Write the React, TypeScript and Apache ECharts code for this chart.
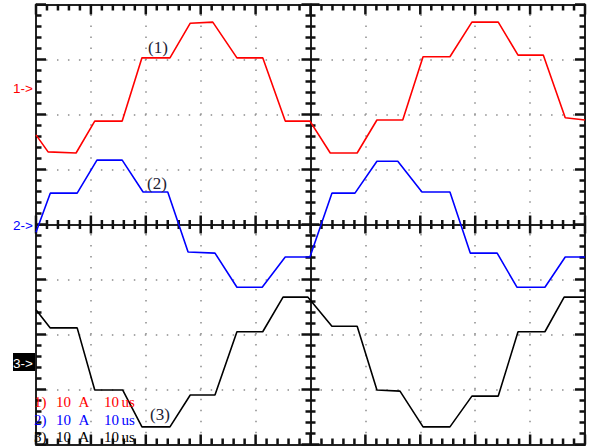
import React, { useEffect, useRef } from "react";
import * as echarts from "echarts";

// Time base: 10 us/div (5 sub-divisions), trigger at the centre of the screen
const T_MIN = -50;
const T_MAX = 50;
const T_DIV = 10;
const T_SUB = 2;
// Vertical screen: 8 divisions (5 sub-divisions each), channels at 10 A/div
const Y_MIN = -4;
const Y_MAX = 4;
const Y_DIV = 1;
const Y_SUB = 0.2;
const AMPS_PER_DIV = 10;

// Ground level of each channel, in screen divisions
const groundDiv = [2.5, 0, -2.5];
const traceColors = ["#ff0000", "#0000ff", "#000000"];
const channelTags = ["1->", "2->", "3->"];
const legendIds = ["1)", "2)", "3)"];
const legendScale = ["10", "A"];
const legendTime = ["10", "us"];
const traceNames = ["(1)", "(2)", "(3)"];

// Phase currents: [time (us), current (A)]
const ch1: [number, number][] = [
  [-50.0, -8.7], [-47.8, -11.8], [-42.7, -12.0], [-39.3, -6.2], [-34.3, -6.2],
  [-30.7, 5.3], [-25.6, 5.3], [-21.9, 11.6], [-17.8, 11.8], [-13.4, 5.3],
  [-8.7, 5.3], [-4.6, -6.2], [-0.1, -6.2], [3.6, -12.0], [8.5, -12.0],
  [12.1, -6.0], [16.8, -6.0], [20.5, 5.5], [25.4, 5.5], [29.4, 11.8],
  [34.2, 11.8], [37.8, 5.8], [42.4, 5.8], [46.4, -5.6], [50.0, -6.0],
];

const ch2: [number, number][] = [
  [-50.0, -1.4], [-47.4, 5.7], [-42.5, 5.7], [-38.9, 11.7], [-34.3, 11.7],
  [-30.5, 5.9], [-26.0, 5.9], [-22.3, -5.0], [-17.4, -5.2], [-13.4, -11.4],
  [-8.8, -11.4], [-4.6, -5.9], [-0.1, -5.9], [3.9, 5.7], [8.1, 5.7],
  [12.1, 11.5], [15.9, 11.5], [20.3, 5.9], [25.4, 5.9], [29.1, -5.2],
  [34.0, -5.2], [37.6, -11.4], [42.7, -11.4], [46.4, -5.9], [50.0, -5.9],
];

const ch3: [number, number][] = [
  [-50.0, 9.5], [-47.4, 6.2], [-42.5, 6.2], [-39.3, -5.1], [-34.2, -5.1],
  [-30.7, -11.8], [-25.6, -11.8], [-21.9, -6.0], [-17.4, -6.0], [-13.4, 5.5],
  [-8.7, 5.5], [-5.0, 11.8], [-0.5, 11.8], [3.9, 6.5], [8.5, 6.5],
  [12.1, -5.1], [16.3, -5.3], [20.5, -11.8], [25.4, -11.8], [29.4, -6.2],
  [34.2, -6.2], [37.8, 5.5], [42.7, 5.5], [46.2, 11.8], [50.0, 11.8],
];

const channels = [ch1, ch2, ch3];

const INK = "#222222";
const SERIF = '"Liberation Serif", "Times New Roman", serif';
const SANS = '"Liberation Sans", Arial, sans-serif';

// plot area in pixels and the resulting pixel pitch of one data unit
const PLOT_W = 549;
const PLOT_H = 440;
const PX_PER_US = PLOT_W / (T_MAX - T_MIN);
const PX_PER_DIV = PLOT_H / (Y_MAX - Y_MIN);

const dotted = {
  show: true,
  showMinLine: false,
  showMaxLine: false,
  lineStyle: { type: [1.5, 9.48], dashOffset: 0.75, color: "#8c8c8c", width: 1.5 },
};

function frameAxis(min: number, max: number, interval: number, position: string, onZero: boolean, grid: boolean) {
  return {
    type: "value",
    min,
    max,
    interval,
    position,
    z: grid ? 0 : 1,
    axisLine: { show: true, onZero, onZeroAxisIndex: 0, lineStyle: { color: INK, width: 2 } },
    axisTick: { show: false },
    axisLabel: { show: false },
    splitLine: grid ? dotted : { show: false },
  };
}

// graticule tick positions, every sub-division
function tickValues(min: number, max: number, step: number) {
  const out: { v: number; major: boolean }[] = [];
  const n = Math.round((max - min) / step);
  for (let i = 0; i <= n; i++) out.push({ v: min + i * step, major: i % 5 === 0 });
  return out;
}

// tick marks as broken line segments: inward on the frame, both ways on the centre lines
function tickSegments() {
  const pts: any[] = [];
  const gap = ["-", "-"];
  const dy = (px: number) => px / PX_PER_DIV;
  const dx = (px: number) => px / PX_PER_US;
  tickValues(T_MIN, T_MAX, T_SUB).forEach(({ v, major }) => {
    const edge = major ? 10 : 6;
    const half = major ? 9 : 4.5;
    pts.push([v, Y_MAX], [v, Y_MAX - dy(edge)], gap);
    pts.push([v, Y_MIN], [v, Y_MIN + dy(edge)], gap);
    pts.push([v, -dy(half)], [v, dy(half)], gap);
  });
  tickValues(Y_MIN, Y_MAX, Y_SUB).forEach(({ v, major }) => {
    const edge = major ? 10 : 5.5;
    const half = major ? 9 : 5;
    pts.push([T_MIN, v], [T_MIN + dx(edge), v], gap);
    pts.push([T_MAX, v], [T_MAX - dx(edge), v], gap);
    pts.push([-dx(half), v], [dx(half), v], gap);
  });
  return pts;
}

export default function App() {
  const ref = useRef<HTMLDivElement>(null);

  useEffect(() => {
    if (!ref.current) return;
    const chart = echarts.init(ref.current, undefined, { renderer: "svg" });

    const graphic: any[] = [];

    // channel ground markers on the left
    channelTags.forEach((tag, i) => {
      const y = 224.5 - groundDiv[i] * 55;
      if (i === 2) {
        graphic.push({
          type: "rect",
          z: 100,
          shape: { x: 13, y: y - 9, width: 22, height: 18 },
          style: { fill: "#000" },
        });
      }
      graphic.push({
        type: "text",
        z: 101,
        x: 13,
        y: y + 1,
        style: {
          text: tag,
          fill: i === 2 ? "#ffffff" : traceColors[i],
          font: `13.5px ${SANS}`,
          align: "left",
          verticalAlign: "middle",
        },
      });
    });

    // scale readout in the lower-left corner
    const rowY = [402, 419.5, 437];
    const colX = [34, 56, 78.5, 104, 121.5];
    legendIds.forEach((id, i) => {
      const parts = [id, legendScale[0], legendScale[1], legendTime[0], legendTime[1]];
      parts.forEach((p, k) => {
        graphic.push({
          type: "text",
          z: 100,
          x: colX[k],
          y: rowY[i],
          style: {
            text: p,
            fill: traceColors[i],
            font: `15px ${SERIF}`,
            align: "left",
            verticalAlign: "middle",
          },
        });
      });
    });

    // trace annotations
    const tagPos = [
      [148, 47],
      [147, 183],
      [150, 414],
    ];
    traceNames.forEach((name, i) => {
      graphic.push({
        type: "text",
        z: 100,
        x: tagPos[i][0],
        y: tagPos[i][1],
        style: {
          text: name,
          fill: "#222233",
          font: `17px ${SERIF}`,
          align: "left",
          verticalAlign: "middle",
        },
      });
    });

    chart.setOption({
      animation: false,
      backgroundColor: "#ffffff",
      grid: { left: 36, top: 4.5, width: PLOT_W, height: PLOT_H, containLabel: false },
      xAxis: [
        frameAxis(T_MIN, T_MAX, T_DIV, "bottom", false, true),
        frameAxis(T_MIN, T_MAX, T_DIV, "top", false, false),
        frameAxis(T_MIN, T_MAX, T_DIV, "bottom", true, false),
      ],
      yAxis: [
        frameAxis(Y_MIN, Y_MAX, Y_DIV, "left", false, true),
        frameAxis(Y_MIN, Y_MAX, Y_DIV, "right", false, false),
        frameAxis(Y_MIN, Y_MAX, Y_DIV, "left", true, false),
      ],
      series: [
        {
          type: "line",
          xAxisIndex: 0,
          yAxisIndex: 0,
          z: 3,
          symbol: "none",
          silent: true,
          connectNulls: false,
          clip: false,
          lineStyle: { color: "#111111", width: 2.5, cap: "butt" },
          data: tickSegments(),
        },
        ...channels.map((data, i) => ({
          type: "line",
          xAxisIndex: 0,
          yAxisIndex: 0,
          z: 5,
          symbol: "none",
          silent: true,
          lineStyle: { color: traceColors[i], width: 1.6 },
          data: data.map(([t, a]) => [t, groundDiv[i] + a / AMPS_PER_DIV]),
        })),
      ],
      graphic,
    });

    return () => chart.dispose();
  }, []);

  return (
    <div
      ref={ref}
      style={{ position: "absolute", left: 0, top: 0, width: 591, height: 448, background: "#fff" }}
    />
  );
}
